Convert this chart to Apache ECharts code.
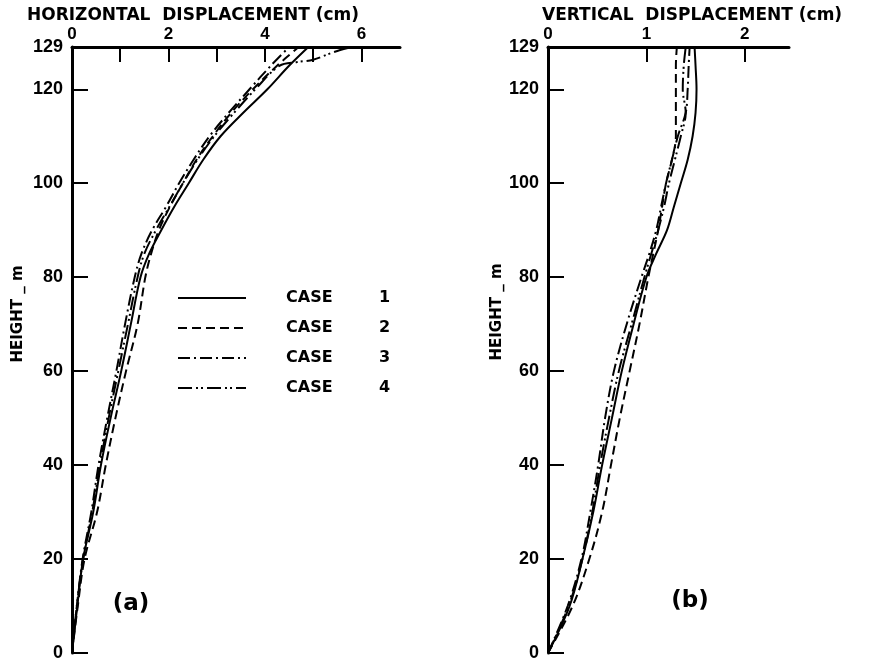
<!DOCTYPE html>
<html><head><meta charset="utf-8">
<script src="https://cdn.jsdelivr.net/npm/echarts@6/dist/echarts.min.js"></script>
<style>html,body{margin:0;padding:0;background:#fff}#c{width:875px;height:662px}</style>
</head><body><div id="c"></div>
<script>
// ---- Data (height in m, displacement in cm) ----
const heights = [0,10,20,30,40,50,60,70,80,85,90,95,100,105,110,115,120,125,129];
const caseNames = ['CASE 1','CASE 2','CASE 3','CASE 4'];

// (a) horizontal displacement
const horiz1 = [0,0.11,0.23,0.44,0.60,0.80,1.02,1.22,1.42,1.60,1.85,2.12,2.42,2.72,3.08,3.55,4.05,4.50,4.90];
const horiz2 = [0,0.12,0.26,0.52,0.70,0.90,1.12,1.36,1.52,1.64,1.80,2.03,2.30,2.58,2.92,3.30,3.75,4.25,4.70];
const horiz3 = [0,0.10,0.22,0.40,0.55,0.73,0.92,1.10,1.30,1.44,1.66,1.95,2.22,2.52,2.85,3.25,3.68,4.12,4.50];
const heights4a = [0,10,20,30,40,50,60,70,80,85,90,95,100,105,110,115,120,125,125.8,126.3,128,129];
const horiz4 = [0,0.10,0.23,0.42,0.58,0.76,0.96,1.16,1.36,1.50,1.74,2.02,2.30,2.60,2.95,3.36,3.80,4.30,4.67,5.00,5.45,5.80];

// (b) vertical displacement
const vert1 = [0,0.22,0.35,0.46,0.55,0.65,0.75,0.87,1.00,1.10,1.21,1.28,1.35,1.42,1.47,1.50,1.51,1.50,1.49];
const vert2 = [0,0.25,0.42,0.55,0.64,0.73,0.83,0.93,1.02,1.07,1.12,1.16,1.20,1.26,1.30,1.30,1.30,1.30,1.31];
const vert3 = [0,0.20,0.34,0.43,0.51,0.58,0.67,0.80,0.95,1.03,1.10,1.15,1.20,1.26,1.32,1.40,1.42,1.43,1.44];
const vert4 = [0,0.21,0.35,0.45,0.53,0.62,0.72,0.85,0.98,1.05,1.12,1.18,1.23,1.29,1.35,1.40,1.37,1.38,1.40];

// tick labels
const hTickLabels = [0,2,4,6];
const hTicks = [0,1,2,3,4,5,6];
const vTickLabels = [0,1,2];
const vTicks = [1,2];
const yTickLabels = [0,20,40,60,80,100,120,129];
const yTicks = [0,20,40,60,80,100,120];

const dashes = ['solid', [9,5], [12,4,2,4], [14,4,2,3,2,4]];
const FONT = 'Liberation Sans';
const TFONT = 'DejaVu Sans';

function pairs(xs, ys){ return xs.map((v,i)=>[v, ys[i]]); }

const seriesDataA = [pairs(horiz1,heights), pairs(horiz2,heights), pairs(horiz3,heights), pairs(horiz4,heights4a)];
const seriesDataB = [pairs(vert1,heights), pairs(vert2,heights), pairs(vert3,heights), pairs(vert4,heights)];

function lineSeries(name, data, idx, dash){
  return {
    name, type:'line', xAxisIndex:idx, yAxisIndex:idx, data,
    symbol:'none', smooth:0.35, animation:false,
    lineStyle:{color:'#000', width:2, type:dash}
  };
}
const series = [];
caseNames.forEach((n,i)=>{ series.push(lineSeries(n, seriesDataA[i], 0, dashes[i])); });
caseNames.forEach((n,i)=>{ series.push(lineSeries(n, seriesDataB[i], 1, dashes[i])); });

function xAxis(idx, max, ticks, labels){
  return {
    type:'value', gridIndex:idx, position:'top', min:0, max:max, interval:1,
    axisLine:{show:true, onZero:false, lineStyle:{color:'#000', width:3}},
    axisTick:{show:true, inside:true, length:15, customValues:ticks, lineStyle:{color:'#000', width:2}},
    axisLabel:{customValues:labels, margin:4, color:'#000', fontFamily:FONT, fontWeight:'bold', fontSize:17},
    splitLine:{show:false}
  };
}
function yAxis(idx){
  return {
    type:'value', gridIndex:idx, min:0, max:129, interval:20,
    axisLine:{show:true, onZero:false, lineStyle:{color:'#000', width:3}},
    axisTick:{show:true, inside:true, length:16, customValues:yTicks, lineStyle:{color:'#000', width:2}},
    axisLabel:{customValues:yTickLabels, margin:9, color:'#000', fontFamily:FONT, fontWeight:'bold', fontSize:18},
    splitLine:{show:false}
  };
}

const chart = echarts.init(document.getElementById('c'), null, {renderer:'canvas'});
chart.setOption({
  backgroundColor:'#fff',
  animation:false,
  grid:[
    {left:72, top:47, width:328, bottom:6},
    {left:548, top:47, width:241, bottom:6}
  ],
  xAxis:[xAxis(0, 6.8, hTicks, hTickLabels), xAxis(1, 2.45, vTicks, vTickLabels)],
  yAxis:[yAxis(0), yAxis(1)],
  legend:{
    data:caseNames, orient:'vertical', left:172, top:282,
    itemWidth:68, itemHeight:14, itemGap:8, selectedMode:false,
    itemStyle:{opacity:0},
    textStyle:{
      color:'#000', fontFamily:TFONT, fontWeight:'bold', fontSize:16, lineHeight:22,
      rich:{c:{width:93, padding:[0,0,0,35], fontFamily:TFONT, fontWeight:'bold', fontSize:16}, n:{fontFamily:TFONT, fontWeight:'bold', fontSize:16}}
    },
    formatter: n => { const p = n.split(' '); return '{c|' + p[0] + '}{n|' + p[1] + '}'; }
  },
  graphic:[
    {type:'text', x:27, y:7, style:{text:'HORIZONTAL  DISPLACEMENT (cm)', fill:'#000', font:'bold 17px "DejaVu Sans"', textAlign:'left', textVerticalAlign:'top'}},
    {type:'text', x:542, y:7, style:{text:'VERTICAL  DISPLACEMENT (cm)', fill:'#000', font:'bold 17px "DejaVu Sans"', textAlign:'left', textVerticalAlign:'top'}},
    {type:'text', x:18, y:314, rotation:Math.PI/2, style:{text:'HEIGHT _ m', fill:'#000', font:'bold 15px "DejaVu Sans"', textAlign:'center', textVerticalAlign:'middle'}},
    {type:'text', x:497, y:312, rotation:Math.PI/2, style:{text:'HEIGHT _ m', fill:'#000', font:'bold 15px "DejaVu Sans"', textAlign:'center', textVerticalAlign:'middle'}},
    {type:'text', x:131, y:604, style:{text:'(a)', fill:'#000', font:'bold 23px "DejaVu Sans"', textAlign:'center', textVerticalAlign:'middle'}},
    {type:'text', x:690, y:601, style:{text:'(b)', fill:'#000', font:'bold 23px "DejaVu Sans"', textAlign:'center', textVerticalAlign:'middle'}}
  ],
  series
});
</script></body></html>
